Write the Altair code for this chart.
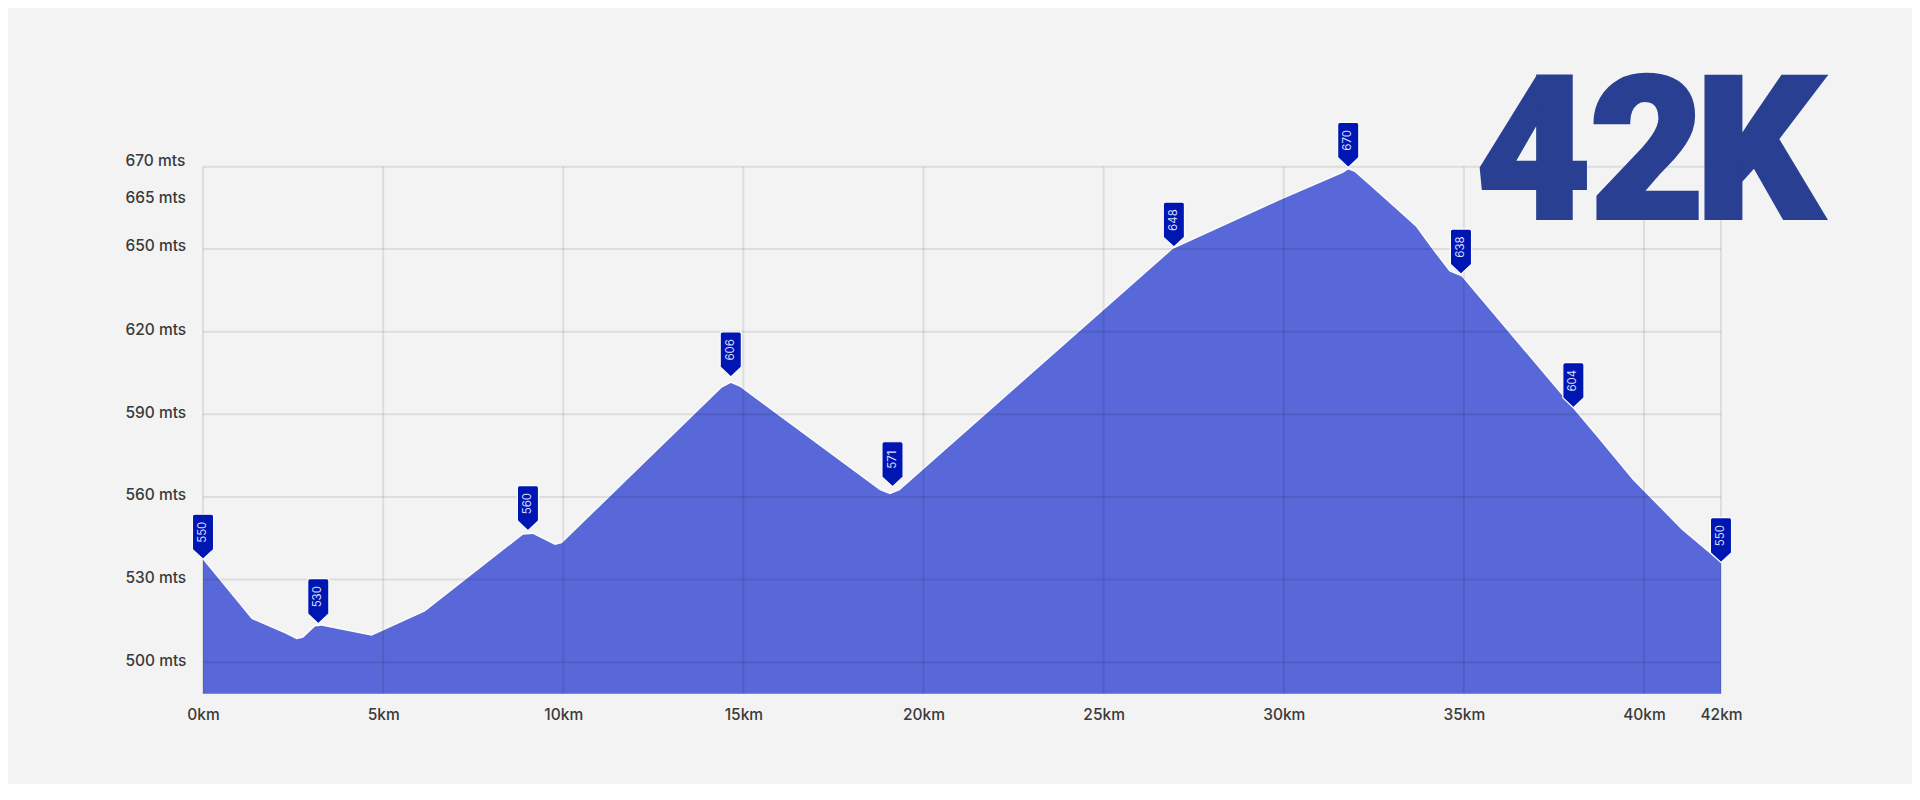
import altair as alt
import pandas as pd

# elevation profile
km = [0, 1.35, 2.28, 2.6, 2.78, 3.11, 3.29, 4.68, 6.16, 8.88, 9.16, 9.77, 9.96,
      14.4, 14.65, 14.9, 18.79, 19.07, 19.34, 26.92, 29.87, 31.64, 31.79, 31.97,
      32.86, 33.67, 34.12, 34.6, 34.94, 38.65, 39.69, 40.98, 42]
elev = [537.2, 515.7, 510.4, 508.4, 508.9, 513, 513.3, 509.6, 518.4, 546.3, 546.6, 542.6, 543.2,
        599.6, 601.4, 600, 562.4, 561, 562.4, 650, 665, 669.07, 669.6, 669.2,
        665, 656.9, 650, 641.8, 640, 582.6, 566.2, 548.1, 536.1]

# the little flags
flag_km = [0, 3.2, 9.02, 14.65, 19.14, 26.95, 31.79, 34.92, 38.04, 42]
flag_elev = [537.4, 514, 547.8, 603.6, 563.7, 650.6, 669.9, 640.9, 592.4, 536.2]
flag_label = ["550", "530", "560", "606", "571", "648", "670", "638", "604", "550"]

km_ticks = [0, 5, 10, 15, 20, 25, 30, 35, 40, 42]
elev_ticks = [500, 530, 560, 590, 620, 650, 665, 670]
elev_grid = [500, 530, 560, 590, 620, 650, 670]

# 42K is set letter by letter, the glyphs almost touch
big_letters = ["4", "2", "K"]
big_km = [36.93, 40.08, 42.99]
big_elev = [659.6, 659.6, 659.6]

floor_elev = 488.6
BG = "#f3f3f3"
FONT = "Inter"

profile = pd.DataFrame({"km": km, "elev": elev, "floor": floor_elev})
flags = pd.DataFrame({"km": flag_km, "elev": flag_elev, "label": flag_label})
grid_x = pd.DataFrame({"km": km_ticks})
grid_y = pd.DataFrame({"elev": elev_grid})
title = pd.DataFrame({"km": big_km, "elev": big_elev, "label": big_letters})

# the real chart is stretched: 40-42km and 650-670 are not on the same ruler
x_scale = alt.Scale(domain=[0, 40, 42], range=[0, 1441, 1518])
y_scale = alt.Scale(domain=[floor_elev, 650, 665, 670], range=[527, 82.3, 33.8, 0])

x_enc = alt.X("km:Q", scale=x_scale, title=None, axis=alt.Axis(
    values=km_ticks, labelExpr="datum.value + 'km'", grid=False, domain=False, ticks=False,
    labelFont=FONT, labelFontSize=15.5, labelFontWeight=500, labelColor="#3a3a3a",
    labelPadding=14, labelOverlap=False, labelFlush=False))
y_enc = alt.Y("elev:Q", scale=y_scale, title=None, axis=alt.Axis(
    values=elev_ticks, labelExpr="datum.value + ' mts'", grid=False, domain=False, ticks=False,
    labelFont=FONT, labelFontSize=15.5, labelFontWeight=500, labelColor="#3a3a3a",
    labelAlign="left", labelPadding=78, labelOverlap=False, labelFlush=False,
    labelOffset=alt.expr("datum.value === 670 ? -6 : datum.value >= 650 ? -3 : -2")))

halo = alt.Chart(profile).mark_line(color="#fbfbfb", strokeWidth=3).encode(x=x_enc, y=y_enc)

area = alt.Chart(profile).mark_area(color="#5868d8").encode(
    x=alt.X("km:Q", scale=x_scale),
    y=alt.Y("elev:Q", scale=y_scale),
    y2="floor:Q",
)

v_rules = alt.Chart(grid_x).mark_rule(color="black", opacity=0.09, strokeWidth=2).encode(
    x=alt.X("km:Q", scale=x_scale),
    y=alt.value(0),
    y2=alt.value(527),
)
h_rules = alt.Chart(grid_y).mark_rule(color="black", opacity=0.09, strokeWidth=2).encode(
    y=alt.Y("elev:Q", scale=y_scale),
    x=alt.value(0),
    x2=alt.value(1518),
)

# tip of the flag sits on the anchor point, body goes up
flag_path = ("M0,0 L-0.47,-0.44 L-0.47,-1.9 Q-0.47,-2 -0.37,-2 L0.37,-2 "
             "Q0.47,-2 0.47,-1.9 L0.47,-0.44 Z")
flag_marks = alt.Chart(flags).mark_point(
    shape=flag_path, size=2025, filled=True, fill="#0016b2", opacity=1,
    stroke="#fbfbfb", strokeWidth=1.2,
).encode(x=alt.X("km:Q", scale=x_scale), y=alt.Y("elev:Q", scale=y_scale))

flag_text = alt.Chart(flags).mark_text(
    angle=270, align="center", baseline="middle", dx=27, font=FONT, fontSize=11.5,
    fontWeight=400, color="#d5dcff",
).encode(x=alt.X("km:Q", scale=x_scale), y=alt.Y("elev:Q", scale=y_scale), text="label:N")

big = alt.Chart(title).mark_text(
    font="Roboto", fontSize=198, fontWeight=900, color="#283f92", stroke="#283f92",
    strokeWidth=4, align="center", baseline="alphabetic",
).encode(x=alt.X("km:Q", scale=x_scale), y=alt.Y("elev:Q", scale=y_scale), text="label:N")

chart = alt.layer(halo, area, v_rules, h_rules, flag_marks, flag_text, big).properties(
    width=1518,
    height=527,
    background=BG,
    autosize=alt.AutoSizeParams(type="none"),
    padding={"left": 195, "top": 158.7, "right": 191, "bottom": 90},
).configure_view(stroke=None)

chart.save("out.html", embed_options={"renderer": "svg", "actions": False})
